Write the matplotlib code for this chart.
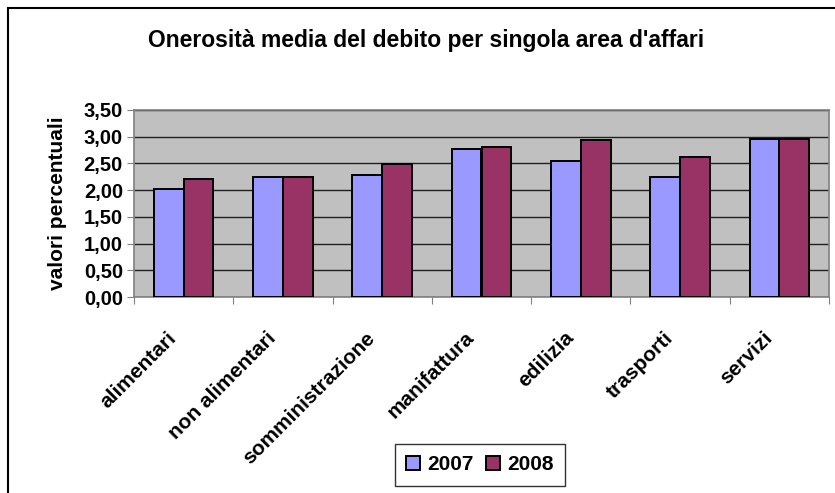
import numpy as np
import matplotlib.pyplot as plt
import matplotlib.transforms as mtransforms
from matplotlib.patches import Rectangle

categorie = ['alimentari', 'non alimentari', 'somministrazione', 'manifattura',
             'edilizia', 'trasporti', 'servizi']
valori_2007 = [2.03, 2.25, 2.29, 2.77, 2.55, 2.25, 2.96]
valori_2008 = [2.21, 2.25, 2.48, 2.81, 2.93, 2.62, 2.96]
anni = ['2007', '2008']

plt.rcParams['font.family'] = ['Liberation Sans', 'DejaVu Sans']
plt.rcParams['font.weight'] = 'bold'
plt.rcParams['axes.labelweight'] = 'bold'

fig = plt.figure(figsize=(8.35, 4.93), dpi=100)
ax = fig.add_axes([134 / 835, 1 - 297 / 493, 695 / 835, 187 / 493])

# bordo esterno del grafico
fig.patches.append(Rectangle((8 / 835, -0.1), 1.1, 1 - 8 / 493 + 0.1,
                             transform=fig.transFigure, fill=False,
                             edgecolor='black', linewidth=1.5))

x = np.arange(len(categorie))
w = 0.30
ax.bar(x - w / 2, valori_2007, w, color='#9999FF', edgecolor='black',
       linewidth=1.4, label=anni[0], zorder=3)
ax.bar(x + w / 2, valori_2008, w, color='#993366', edgecolor='black',
       linewidth=1.4, label=anni[1], zorder=3)

ax.set_facecolor('#C0C0C0')
ax.set_xlim(-0.5, len(categorie) - 0.5)
ax.set_ylim(0, 3.5)
yt = np.arange(0, 3.51, 0.5)
ax.set_yticks(yt)
ax.set_yticklabels([('%.2f' % v).replace('.', ',') for v in yt], fontsize=14.5)
ax.yaxis.grid(True, color='#202020', linewidth=1.0, zorder=1)
ax.set_axisbelow(True)

# tacche tra le categorie, etichette ruotate sotto ogni gruppo
ax.set_xticks(np.arange(-0.5, len(categorie), 1.0))
ax.set_xticklabels([])
ax.tick_params(axis='x', length=5, color='#808080')
ax.tick_params(axis='y', length=5, color='#808080', pad=3)
base = ax.get_xaxis_transform()
off = mtransforms.ScaledTranslation(-0.10, -0.38, fig.dpi_scale_trans)
for xi, nome in zip(x, categorie):
    ax.text(xi, 0, nome, transform=base + off, rotation=45,
            rotation_mode='anchor', ha='right', va='center', fontsize=15)

for s in ax.spines.values():
    s.set_color('#808080')
    s.set_linewidth(1.2)

ax.set_ylabel('valori percentuali', fontsize=15, labelpad=12)

fig.text(0.51, 1 - 41 / 493, "Onerosità media del debito per singola area d'affari",
         ha='center', va='center', fontsize=16.5, fontweight='bold')

leg = fig.legend(loc='center', bbox_to_anchor=(480 / 835, 1 - 465 / 493), ncol=2,
                 frameon=True, fancybox=False, edgecolor='black', fontsize=15,
                 handlelength=0.65, handleheight=0.65, handletextpad=0.35,
                 columnspacing=0.6, borderpad=0.55)
leg.get_frame().set_linewidth(1.0)

fig.savefig('out.png', dpi=100)
